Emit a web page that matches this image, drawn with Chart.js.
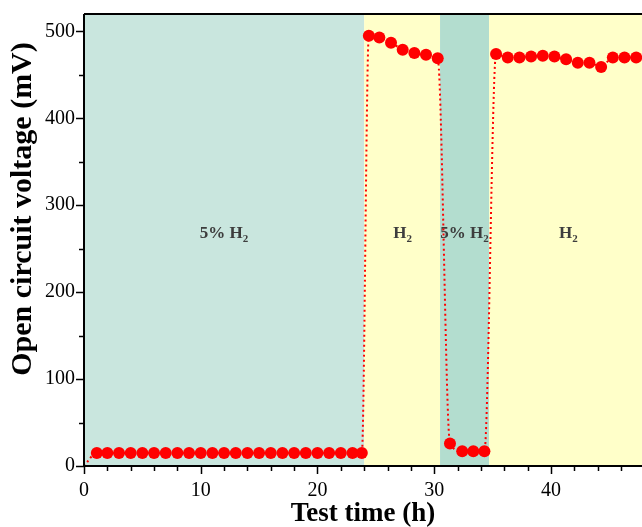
<!DOCTYPE html>
<html>
<head>
<meta charset="utf-8">
<script src="https://cdn.jsdelivr.net/npm/chart.js@4"></script>
<style>
  html, body { margin: 0; padding: 0; background: #fff; }
  canvas { display: block; }
</style>
</head>
<body>
<canvas id="ocvChart" width="642" height="527"></canvas>
<script>
// test time (h) and open circuit voltage (mV)
const timeH = [0, 1.1, 2, 3, 4, 5, 6, 7, 8, 9, 10, 11, 12, 13, 14, 15, 16, 17, 18, 19, 20, 21, 22, 23, 23.8,
  24.4, 25.3, 26.3, 27.3, 28.3, 29.3, 30.3,
  31.35, 32.4, 33.35, 34.3,
  35.3, 36.3, 37.3, 38.3, 39.3, 40.3, 41.3, 42.3, 43.3, 44.3, 45.3, 46.3, 47.3];
const voltage = [0, 15, 15, 15, 15, 15, 15, 15, 15, 15, 15, 15, 15, 15, 15, 15, 15, 15, 15, 15, 15, 15, 15, 15, 15,
  495, 493, 487, 479, 475, 473, 469,
  26, 17, 17, 17,
  474, 470, 470, 471, 472, 471, 468, 464, 464, 459, 470, 470, 470];

// gas atmosphere bands (h)
const bandStart = [0, 24, 30.5, 34.7];
const bandEnd = [24, 30.5, 34.7, 47.8];
const bandLabel = ["5% H", "H", "5% H", "H"];
const bandLabelX = [12, 27.3, 32.6, 41.5];
const bandLabelY = 262;

const xTicks = [0, 10, 20, 30, 40];
const yTicks = [0, 100, 200, 300, 400, 500];

const bandColors = ["#c9e6de", "#ffffc9", "#b3ddcf", "#ffffc9"];
const serif = "'Liberation Serif', 'Times New Roman', serif";

const frame = {
  id: "frame",
  beforeDraw(chart) {
    const { ctx, chartArea: a, scales: { x } } = chart;
    ctx.save();
    bandStart.forEach((s, i) => {
      const x0 = x.getPixelForValue(s);
      const x1 = x.getPixelForValue(bandEnd[i]);
      ctx.fillStyle = bandColors[i];
      ctx.fillRect(x0, a.top, x1 - x0, a.bottom - a.top);
    });
    ctx.restore();
  },
  beforeDatasetsDraw(chart) {
    const { ctx, scales: { x, y } } = chart;
    ctx.save();
    ctx.fillStyle = "#3d3d3d";
    bandLabel.forEach((t, i) => {
      ctx.font = "bold 17px " + serif;
      const w1 = ctx.measureText(t).width;
      ctx.font = "bold 11px " + serif;
      const w2 = ctx.measureText("2").width;
      const cx = x.getPixelForValue(bandLabelX[i]);
      const by = y.getPixelForValue(bandLabelY);
      const left = cx - (w1 + w2) / 2;
      ctx.textBaseline = "alphabetic";
      ctx.textAlign = "left";
      ctx.font = "bold 17px " + serif;
      ctx.fillText(t, left, by);
      ctx.font = "bold 11px " + serif;
      ctx.fillText("2", left + w1, by + 4);
    });
    ctx.restore();
  },
  afterDraw(chart) {
    const { ctx, chartArea: a, scales: { x, y } } = chart;
    ctx.save();
    ctx.strokeStyle = "#000";
    ctx.lineWidth = 2;
    ctx.beginPath();
    ctx.moveTo(a.left, a.top);
    ctx.lineTo(a.right, a.top);
    ctx.moveTo(a.left, a.top);
    ctx.lineTo(a.left, a.bottom);
    ctx.lineTo(a.right, a.bottom);
    ctx.stroke();

    ctx.lineWidth = 1.5;
    ctx.beginPath();
    for (let v = 0; v <= 47; v += 2) {
      const px = Math.round(x.getPixelForValue(v)) + 0.5;
      const len = v % 10 === 0 ? 8 : 5;
      ctx.moveTo(px, a.bottom);
      ctx.lineTo(px, a.bottom + len);
    }
    for (let v = 0; v <= 500; v += 50) {
      const py = Math.round(y.getPixelForValue(v)) + 0.5;
      const len = v % 100 === 0 ? 8 : 5;
      ctx.moveTo(a.left, py);
      ctx.lineTo(a.left - len, py);
    }
    ctx.stroke();

    ctx.fillStyle = "#000";
    ctx.textAlign = "center";
    ctx.textBaseline = "middle";
    ctx.font = "bold 27px " + serif;
    ctx.fillText("Test time (h)", 363, 514);
    ctx.translate(23, 209);
    ctx.rotate(-Math.PI / 2);
    ctx.font = "bold 30px " + serif;
    ctx.fillText("Open circuit voltage (mV)", 0, 0);
    ctx.restore();
  }
};

new Chart(document.getElementById("ocvChart"), {
  type: "line",
  data: {
    datasets: [
      {
        data: timeH.map((t, i) => ({ x: t, y: voltage[i] })),
        borderColor: "#ff0000",
        borderWidth: 2,
        borderDash: [2, 3],
        cubicInterpolationMode: "monotone",
        backgroundColor: "#ff0000",
        pointBackgroundColor: "#ff0000",
        pointBorderWidth: 0,
        pointRadius: timeH.map((t) => (t === 0 ? 1.5 : 6)),
        fill: false,
      },
    ],
  },
  options: {
    responsive: false,
    animation: false,
    devicePixelRatio: 1,
    layout: { autoPadding: false, padding: { top: 14, right: 0, left: 0, bottom: 0 } },
    plugins: {
      legend: { display: false },
      tooltip: { enabled: false },
    },
    scales: {
      x: {
        type: "linear",
        min: 0,
        max: 47.8,
        afterFit: (s) => {
          s.height = 61;
          s.paddingLeft = 0;
          s.paddingRight = 0;
        },
        grid: { display: false, drawTicks: true, tickLength: 8 },
        border: { display: false },
        ticks: {
          stepSize: 2,
          includeBounds: false,
          autoSkip: false,
          maxRotation: 0,
          padding: 5,
          color: "#000",
          font: { family: serif, size: 20 },
          callback: (v) => (xTicks.includes(v) ? String(v) : ""),
        },
      },
      y: {
        min: 0,
        max: 520,
        afterFit: (s) => {
          s.width = 84;
          s.paddingTop = 0;
          s.paddingBottom = 0;
        },
        grid: { display: false, drawTicks: true, tickLength: 8 },
        border: { display: false },
        ticks: {
          stepSize: 50,
          includeBounds: false,
          autoSkip: false,
          padding: 1,
          color: "#000",
          font: { family: serif, size: 20 },
          callback: (v) => (yTicks.includes(v) ? String(v) : ""),
        },
      },
    },
  },
  plugins: [frame],
});
</script>
</body>
</html>
